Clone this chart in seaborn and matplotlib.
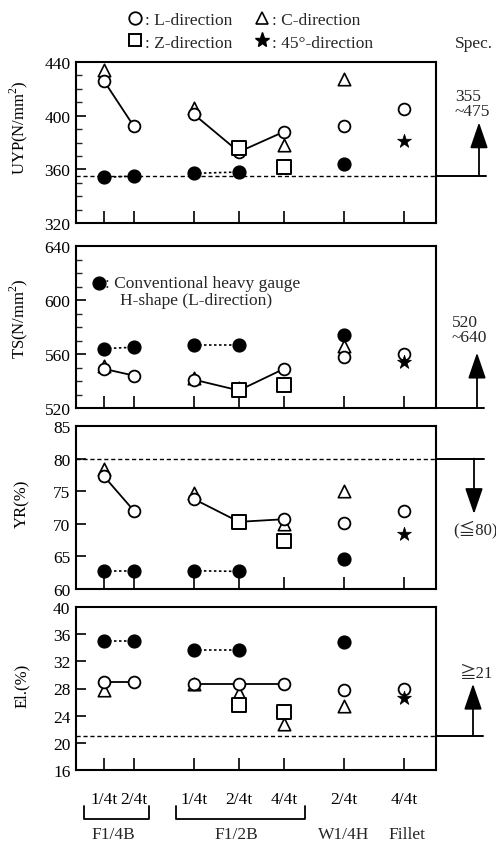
import numpy as np
import pandas as pd
import matplotlib
matplotlib.use("Agg")
import matplotlib.pyplot as plt
import matplotlib.transforms as mtransforms
from matplotlib.lines import Line2D
from matplotlib.ticker import MultipleLocator
import seaborn as sns

# ---------------- data ----------------
pos_labels = ["1/4t", "2/4t", "1/4t", "2/4t", "4/4t", "2/4t", "4/4t"]
xpos = [0, 1, 3, 4.5, 6, 8, 10]
groups = ["F1/4B", "F1/4B", "F1/2B", "F1/2B", "F1/2B", "W1/4H", "Fillet"]
nan = np.nan

uyp_L = [426, 392, 401, 373, 388, 392, 405]
uyp_C = [434, nan, 406, nan, 378, 427, nan]
uyp_Z = [nan, nan, nan, 376, 362, nan, nan]
uyp_45 = [nan, nan, nan, nan, nan, nan, 381]
uyp_conv = [354, 355, 357, 358, nan, 364, nan]

ts_L = [549, 544, 541, 533, 549, 558, 560]
ts_C = [551, nan, 542, 535, nan, 566, nan]
ts_Z = [nan, nan, nan, 533, 537, nan, nan]
ts_45 = [nan, nan, nan, nan, nan, nan, 554]
ts_conv = [564, 565, 567, 567, nan, 574, nan]

yr_L = [77.3, 72.0, 73.8, 70.3, 70.7, 70.1, 72.0]
yr_C = [78.4, nan, 74.8, 70.2, 70.0, 75.0, nan]
yr_Z = [nan, nan, nan, 70.3, 67.4, nan, nan]
yr_45 = [nan, nan, nan, nan, nan, nan, 68.4]
yr_conv = [62.8, 62.8, 62.8, 62.7, nan, 64.6, nan]

el_L = [29.0, 29.0, 28.7, 28.7, 28.7, 27.8, 28.0]
el_C = [27.8, nan, 28.7, 27.3, 22.8, 25.4, nan]
el_Z = [nan, nan, nan, 25.6, 24.6, nan, nan]
el_45 = [nan, nan, nan, nan, nan, nan, 26.6]
el_conv = [35.0, 35.0, 33.7, 33.7, nan, 34.8, nan]

# line segments: L-direction solid lines, conventional dotted lines
seg_L = ["a", "a", "b", "b", "b", None, None]
seg_conv = ["a", "a", "b", "b", None, None, None]

panels = [
    dict(name="UYP(N/mm$^2$)", L=uyp_L, C=uyp_C, Z=uyp_Z, S=uyp_45, conv=uyp_conv,
         ylim=(320, 440), major=40, minor=10, spec=355, ylab_y=0.6),
    dict(name="TS(N/mm$^2$)", L=ts_L, C=ts_C, Z=ts_Z, S=ts_45, conv=ts_conv,
         ylim=(520, 640), major=40, minor=10, spec=520, ylab_y=0.56),
    dict(name="YR(%)", L=yr_L, C=yr_C, Z=yr_Z, S=yr_45, conv=yr_conv,
         ylim=(60, 85), major=5, minor=None, spec=80, ylab_y=0.53),
    dict(name="El.(%)", L=el_L, C=el_C, Z=el_Z, S=el_45, conv=el_conv,
         ylim=(16, 40), major=4, minor=None, spec=21, ylab_y=0.52),
]

# ---------------- style ----------------
sns.set_theme(style="ticks")
plt.rcParams["font.family"] = ["Liberation Serif", "DejaVu Serif", "DejaVu Sans"]
plt.rcParams["mathtext.fontset"] = "custom"
plt.rcParams["mathtext.rm"] = "Liberation Serif"
FS = 12.5
SYMF = ["Liberation Serif", "Noto Sans CJK JP"]

fig = plt.figure(figsize=(4.96, 8.45), dpi=100)
W, H = 496.0, 845.0
left_px, right_px = 76, 436
boxes = [(63, 224), (247, 409), (427, 590), (608, 771)]

mk = dict(
    L=dict(marker="o", s=72, color="white", edgecolor="black", linewidth=1.3, zorder=5),
    C=dict(marker="^", s=80, color="white", edgecolor="black", linewidth=1.2, zorder=4),
    Z=dict(marker="s", s=90, color="white", edgecolor="black", linewidth=1.4, zorder=6),
    S=dict(marker="*", s=110, color="black", edgecolor="black", linewidth=0.5, zorder=6),
    conv=dict(marker="o", s=85, color="black", edgecolor="black", linewidth=1.0, zorder=7),
)

axes = []
for i, (p, (top, bot)) in enumerate(zip(panels, boxes)):
    ax = fig.add_axes([left_px / W, 1 - bot / H, (right_px - left_px) / W, (bot - top) / H])
    axes.append(ax)
    df = pd.DataFrame({"x": xpos, "L": p["L"], "C": p["C"], "Z": p["Z"], "S": p["S"],
                       "conv": p["conv"], "segL": seg_L, "segc": seg_conv})

    # connecting lines
    dL = df.dropna(subset=["segL"])
    sns.lineplot(data=dL, x="x", y="L", units="segL", estimator=None, sort=False,
                 color="black", lw=1.3, ax=ax, legend=False, zorder=2)
    dc = df.dropna(subset=["segc", "conv"])
    sns.lineplot(data=dc, x="x", y="conv", units="segc", estimator=None, sort=False,
                 color="black", lw=1.2, ax=ax, legend=False, zorder=2)
    for line in ax.lines[-(dc["segc"].nunique()):]:
        line.set_linestyle((0, (1.5, 1.5)))

    for key in ["C", "L", "Z", "S", "conv"]:
        d = df.dropna(subset=[key])
        sns.scatterplot(data=d, x="x", y=key, ax=ax, legend=False, **mk[key])

    # spec line
    if i != 1:
        ax.axhline(p["spec"], color="black", lw=1.0, ls=(0, (3, 2)), zorder=1)

    ax.set_xlim(-0.93, 11.07)
    ax.set_ylim(*p["ylim"])
    ax.yaxis.set_major_locator(MultipleLocator(p["major"]))
    if p["minor"]:
        ax.yaxis.set_minor_locator(MultipleLocator(p["minor"]))
    ax.set_xticks(xpos)
    ax.tick_params(axis="both", direction="in", colors="black", labelsize=FS, width=1.2)
    ax.tick_params(axis="y", which="major", length=7, pad=4)
    ax.tick_params(axis="y", which="minor", length=4, width=1.0, direction="in")
    ax.tick_params(axis="x", length=9, pad=15)
    for sp in ax.spines.values():
        sp.set_linewidth(1.5)
        sp.set_color("black")
    ax.set_xlabel("")
    ax.set_ylabel(p["name"], fontsize=12, color="black")
    ax.yaxis.set_label_coords(-0.128, p["ylab_y"])
    if i < 3:
        ax.set_xticklabels([])
    else:
        ax.set_xticklabels(pos_labels, fontsize=FS)
    ax.set_facecolor("white")

# ---------------- spec annotations (right side) ----------------
def btf(ax):
    return mtransforms.blended_transform_factory(ax.transAxes, ax.transData)

def fx(px):
    return (px - left_px) / (right_px - left_px)

arrowp = dict(arrowstyle="-|>,head_length=1.6,head_width=0.55", mutation_scale=10,
              color="black", lw=1.3, shrinkA=0, shrinkB=0)

# UYP
ax = axes[0]
t = btf(ax)
ax.plot([1, fx(486)], [355, 355], transform=t, color="black", lw=1.4, clip_on=False)
ax.annotate("", xy=(fx(479), 395), xytext=(fx(479), 355), xycoords=t, textcoords=t,
            arrowprops=arrowp, annotation_clip=False)
ax.text(fx(455), 1.12, "Spec.", transform=ax.transAxes, fontsize=FS, ha="left", va="center")
ax.text(fx(455), 409, "355\n~475", transform=t, fontsize=FS, ha="left", va="center",
        linespacing=0.95)

# TS
ax = axes[1]
t = btf(ax)
ax.plot([1, fx(484)], [520, 520], transform=t, color="black", lw=1.4, clip_on=False)
ax.annotate("", xy=(fx(477), 561), xytext=(fx(477), 520), xycoords=t, textcoords=t,
            arrowprops=arrowp, annotation_clip=False)
ax.text(fx(452), 578, "520\n~640", transform=t, fontsize=FS, ha="left", va="center",
        linespacing=0.95)

# YR
ax = axes[2]
t = btf(ax)
ax.plot([1, fx(484)], [80, 80], transform=t, color="black", lw=1.4, clip_on=False)
ax.annotate("", xy=(fx(474), 71.5), xytext=(fx(474), 80), xycoords=t, textcoords=t,
            arrowprops=arrowp, annotation_clip=False)
ax.text(fx(475), 69.2, "(≦80)", transform=t, fontsize=FS - 0.5, ha="center", va="center",
        family=SYMF)

# El
ax = axes[3]
t = btf(ax)
ax.plot([1, fx(483)], [21, 21], transform=t, color="black", lw=1.4, clip_on=False)
ax.annotate("", xy=(fx(473), 28.7), xytext=(fx(473), 21), xycoords=t, textcoords=t,
            arrowprops=arrowp, annotation_clip=False)
ax.text(fx(476), 30.3, "≧21", transform=t, fontsize=FS - 0.5, ha="center", va="center",
        family=SYMF)

# ---------------- conventional legend in TS panel ----------------
ax = axes[1]
ax.scatter([fx(99)], [612.5], transform=btf(ax),
           marker="o", s=85, color="black", clip_on=False, zorder=8)
ax.text(fx(105), 612.5, ": Conventional heavy gauge", transform=btf(ax), fontsize=FS,
        ha="left", va="center")
ax.text(fx(120), 600, "H-shape (L-direction)", transform=btf(ax), fontsize=FS,
        ha="left", va="center")

# ---------------- group brackets below bottom panel ----------------
ax = axes[3]
tb = mtransforms.blended_transform_factory(ax.transData, ax.transAxes)
for (x0, x1) in [(-0.65, 1.5), (2.4, 6.7)]:
    ax.plot([x0, x0, x1, x1], [-0.22, -0.30, -0.30, -0.22], transform=tb,
            color="black", lw=1.3, clip_on=False)
for gx, gname in [(0.3, "F1/4B"), (4.4, "F1/2B"), (8, "W1/4H"), (10.1, "Fillet")]:
    ax.text(gx, -0.395, gname, transform=tb, fontsize=FS, ha="center", va="center")

# ---------------- top legend ----------------
handles = [
    Line2D([], [], ls="none", marker="o", ms=9, mfc="white", mec="black", mew=1.3),
    Line2D([], [], ls="none", marker="s", ms=9, mfc="white", mec="black", mew=1.4),
    Line2D([], [], ls="none", marker="^", ms=9, mfc="white", mec="black", mew=1.2),
    Line2D([], [], ls="none", marker="*", ms=11, mfc="black", mec="black"),
]
labels = [": L-direction", ": Z-direction", ": C-direction", ": 45°-direction"]
fig.legend(handles, labels, ncol=2, loc="upper left", bbox_to_anchor=(115 / W, 1 - 1 / H),
           frameon=False, fontsize=FS, handlelength=0.9, handletextpad=0.1,
           columnspacing=1.3, labelspacing=0.35, borderpad=0.2)

fig.savefig("out.png", dpi=100, facecolor="white")
